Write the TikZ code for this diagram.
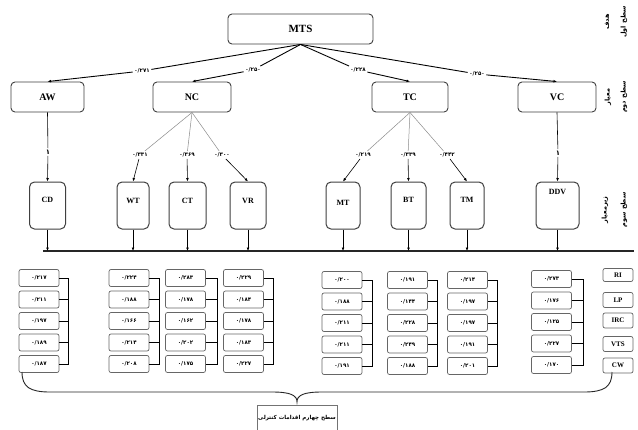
\documentclass[tikz,border=0pt]{standalone}
\usepackage{fontspec}
\setmainfont{Liberation Serif}
\newfontfamily\fa[Script=Arabic]{DejaVu Sans}
\TeXXeTstate=1
\usetikzlibrary{arrows.meta}

\tikzset{
  goalbox/.style={draw=black!75, line width=0.9pt, rounded corners=4pt,
    minimum width=145pt, minimum height=30pt, inner sep=0pt,
    font=\bfseries\fontsize{11}{11}\selectfont},
  critbox/.style={draw=black!75, line width=0.9pt, rounded corners=4pt,
    minimum height=30pt, inner sep=0pt,
    font=\bfseries\fontsize{10}{10}\selectfont},
  subbox/.style={draw=black!75, line width=1pt, rounded corners=5pt,
    minimum height=47pt, inner sep=0pt},
  sublabel/.style={inner sep=0pt, font=\bfseries\fontsize{8}{8}\selectfont},
  wbox/.style={draw=black!60, line width=0.7pt, rounded corners=2pt,
    minimum width=40pt, minimum height=17pt, inner sep=0pt,
    font=\fa\bfseries\fontsize{5.5}{5.5}\selectfont},
  codebox/.style={draw=black!60, line width=0.7pt, rounded corners=2pt,
    minimum width=30pt, minimum height=15pt, inner sep=0pt,
    font=\bfseries\fontsize{7}{7}\selectfont},
  weight/.style={fill=white, inner sep=1.5pt, font=\fa\bfseries\fontsize{5.5}{5.5}\selectfont},
  levellabel/.style={rotate=90, inner sep=0pt, font=\fa\bfseries\fontsize{6.5}{6.5}\selectfont},
  toplink/.style={line width=0.9pt, black},
  fanlink/.style={line width=0.5pt, black!45},
  arr/.style={-{Latex[length=3.5pt,width=2.8pt]}, line width=0.6pt, black},
  toparr/.style={-{Latex[length=3.5pt,width=2.8pt]}, line width=0.9pt, black},
  bracket/.style={line width=0.9pt, black},
  busline/.style={line width=1.3pt, black!85},
}

% one column of five weighted boxes with its bracket on the right
\newcommand\wgroup[9]{%
  \node[wbox] (#1-1) at (#2,#4) {۰/#5};
  \node[wbox] (#1-2) at (#2,{#4+21.5}) {۰/#6};
  \node[wbox] (#1-3) at (#2,{#4+43}) {۰/#7};
  \node[wbox] (#1-4) at (#2,{#4+64.5}) {۰/#8};
  \node[wbox] (#1-5) at (#2,{#4+86}) {۰/#9};
  \coordinate (#1-br) at (#3,#4);
  \draw[bracket] (#1-1.east) -- (#1-1.east -| #1-br) -- (#1-5.east -| #1-br) -- (#1-5.east);
  \draw[bracket] (#1-2.east) -- (#1-2.east -| #1-br);
  \draw[bracket] (#1-3.east) -- (#1-3.east -| #1-br);
  \draw[bracket] (#1-4.east) -- (#1-4.east -| #1-br);
}

\begin{document}
\begin{tikzpicture}[x=1pt,y=-1pt]
\useasboundingbox (0,0) rectangle (638,429);
\fill[white] (0,0) rectangle (638,429);

% level 1: goal
\node[goalbox] (MTS) at (300.5,29) {MTS};

% level 2: criteria
\node[critbox, minimum width=73pt] (AW) at (47.5,97) {AW};
\node[critbox, minimum width=78pt] (NC) at (192,97) {NC};
\node[critbox, minimum width=76pt] (TC) at (410,97) {TC};
\node[critbox, minimum width=78pt] (VC) at (557,97) {VC};

\node[weight] (w1) at (142,71) {۰/۲۷۱};
\node[weight] (w2) at (253,70) {۰/۲۵۰};
\node[weight] (w3) at (358,70) {۰/۲۲۸};
\node[weight] (w4) at (477,74) {۰/۲۵۰};
\foreach \w/\c in {w1/AW,w2/NC,w3/TC,w4/VC}{
  \draw[toplink] (MTS.south) -- (\w);
  \draw[toparr] (\w) -- (\c.north);
}

% level 3: sub-criteria
\node[subbox, minimum width=36pt] (CD) at (47.5,205.5) {};
\node[subbox, minimum width=32pt] (WT) at (133,205.5) {};
\node[subbox, minimum width=37pt] (CT) at (187.5,205.5) {};
\node[subbox, minimum width=36pt] (VR) at (248,205.5) {};
\node[subbox, minimum width=34pt] (MT) at (343,205.5) {};
\node[subbox, minimum width=35pt] (BT) at (408.5,205.5) {};
\node[subbox, minimum width=34pt] (TM) at (467,205.5) {};
\node[subbox, minimum width=43pt] (DDV) at (557.5,205.5) {};

\node[sublabel] (CDt) at (47.5,200) {CD};
\node[sublabel] (WTt) at (133,201) {WT};
\node[sublabel] (CTt) at (187.5,201) {CT};
\node[sublabel] (VRt) at (248,201) {VR};
\node[sublabel] (MTt) at (343,203) {MT};
\node[sublabel] (BTt) at (408.5,200) {BT};
\node[sublabel] (TMt) at (467,200) {TM};
\node[sublabel] (DDVt) at (557.5,192) {DDV};

% AW -> CD and VC -> DDV
\node[weight, font=\fa\bfseries\fontsize{7}{7}\selectfont] (one1) at (48,152) {۱};
\node[weight, font=\fa\bfseries\fontsize{7}{7}\selectfont] (one2) at (558,153) {۱};
\draw[arr, -] (AW.south) -- (one1);
\draw[arr] (one1) -- (CD.north);
\draw[arr, -] (VC.south) -- (one2);
\draw[arr] (one2) -- (DDV.north);

% NC -> WT, CT, VR
\node[weight] (n1) at (140,155) {۰/۳۳۱};
\node[weight] (n2) at (187,155) {۰/۳۶۹};
\node[weight] (n3) at (222,155) {۰/۳۰۰};
\foreach \w/\c in {n1/WT,n2/CT,n3/VR}{
  \draw[fanlink] (NC.south) -- (\w);
  \draw[arr] (\w) -- (\c.north);
}

% TC -> MT, BT, TM
\node[weight] (t1) at (363,155) {۰/۲۱۹};
\node[weight] (t2) at (408,155) {۰/۳۳۹};
\node[weight] (t3) at (447,155) {۰/۴۴۲};
\foreach \w/\c in {t1/MT,t2/BT,t3/TM}{
  \draw[fanlink] (TC.south) -- (\w);
  \draw[arr] (\w) -- (\c.north);
}

% collecting line below the sub-criteria
\coordinate (busL) at (43,251);
\coordinate (busR) at (634,251);
\draw[busline] (busL) -- (busR);
\foreach \c in {CD,WT,CT,VR,MT,BT,TM,DDV}{
  \draw[arr] (\c.south) -- (\c.south |- busL);
}

% level 4: control measures
\wgroup{ga}{39}{68}{278}{۲۱۷}{۲۱۱}{۱۹۷}{۱۸۹}{۱۸۷}
\wgroup{gb}{129}{159}{278}{۲۲۴}{۱۸۸}{۱۶۶}{۲۱۴}{۲۰۸}
\wgroup{gc}{185.5}{217}{278}{۲۸۳}{۱۷۸}{۱۶۲}{۲۰۲}{۱۷۵}
\wgroup{gd}{243.5}{273}{278}{۲۲۹}{۱۸۴}{۱۷۸}{۱۸۳}{۲۲۷}
\wgroup{ge}{342}{372}{280}{۲۰۰}{۱۸۸}{۲۱۱}{۲۱۱}{۱۹۱}
\wgroup{gf}{407.5}{437}{280}{۱۹۱}{۱۴۴}{۲۲۸}{۲۴۹}{۱۸۸}
\wgroup{gg}{467.5}{497}{280}{۲۱۴}{۱۹۷}{۱۹۷}{۱۹۱}{۲۰۱}
\wgroup{gh}{551.5}{583}{279}{۲۷۳}{۱۷۶}{۱۲۵}{۲۲۷}{۱۷۰}

\node[codebox, minimum height=13pt] (RI) at (618,275) {RI};
\node[codebox] (LP) at (618,300) {LP};
\node[codebox] (IRC) at (618,320.5) {IRC};
\node[codebox] (VTS) at (618,344) {VTS};
\node[codebox] (CW) at (618,365.5) {CW};

% brace gathering the control measures
\draw[line width=0.9pt, black!85]
  (22,372) .. controls (22,387) and (30,392) .. (50,392) -- (272,392)
  .. controls (290,392) and (297,395) .. (297,402)
  .. controls (297,395) and (304,392) .. (322,392) -- (584,392)
  .. controls (604,392) and (612,387) .. (612,372);
\node[draw=black!55, line width=0.6pt, minimum width=80pt, minimum height=27pt,
      inner sep=0pt, font=\fa\bfseries\fontsize{5.5}{5.5}\selectfont] (L4) at (297,418.5)
  {\beginR سطح چهارم اقدامات کنترلی\endR};

% level names on the right
\node[levellabel] (lv1a) at (624,22) {\beginR سطح اول\endR};
\node[levellabel] (lv1b) at (607,22) {\beginR هدف\endR};
\node[levellabel] (lv2a) at (624,97) {\beginR سطح دوم\endR};
\node[levellabel] (lv2b) at (608,97) {\beginR معیار\endR};
\node[levellabel] (lv3a) at (624,210) {\beginR سطح سوم\endR};
\node[levellabel] (lv3b) at (605,210) {\beginR زیرمعیار\endR};
\end{tikzpicture}
\end{document}
